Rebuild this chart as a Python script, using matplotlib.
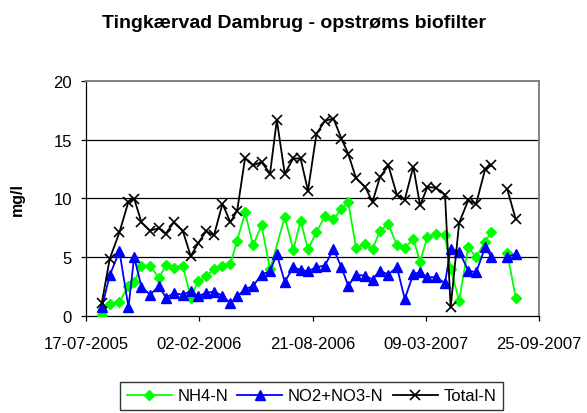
import numpy as np
import pandas as pd
import matplotlib
matplotlib.use("Agg")
import matplotlib.pyplot as plt
import matplotlib.dates as mdates

plt.rcParams['font.family'] = ['Liberation Sans', 'DejaVu Sans']

nan = np.nan

# sampling dates (the 2007-07-17 row has no samples -> lines break there)
dates = ['2005-08-14', '2005-08-28', '2005-09-14', '2005-09-30', '2005-10-10',
         '2005-10-23', '2005-11-07', '2005-11-23', '2005-12-05', '2005-12-19',
         '2006-01-04', '2006-01-18', '2006-01-31', '2006-02-14', '2006-02-28',
         '2006-03-15', '2006-03-29', '2006-04-10', '2006-04-24', '2006-05-08',
         '2006-05-23', '2006-06-07', '2006-06-19', '2006-07-03', '2006-07-18',
         '2006-07-31', '2006-08-13', '2006-08-28', '2006-09-12', '2006-09-27',
         '2006-10-11', '2006-10-23', '2006-11-06', '2006-11-22', '2006-12-05',
         '2006-12-18', '2007-01-02', '2007-01-17', '2007-01-31', '2007-02-15',
         '2007-02-27', '2007-03-12', '2007-03-27', '2007-04-12', '2007-04-22',
         '2007-05-07', '2007-05-23', '2007-06-06', '2007-06-22', '2007-07-03',
         '2007-07-17', '2007-07-31', '2007-08-15']

nh4 = [0.1, 1.0, 1.15, 2.55, 2.85, 4.25, 4.25, 3.2, 4.35, 4.1,
       4.25, 1.55, 2.95, 3.35, 4.0, 4.25, 4.4, 6.4, 8.8, 6.0,
       7.7, 3.95, nan, 8.4, 5.6, 8.1, 5.65, 7.1, 8.5, 8.2,
       9.1, 9.7, 5.75, 6.1, 5.65, 7.25, 7.8, 6.0, 5.78, 6.55,
       4.6, 6.7, 6.98, 6.84, 3.99, 1.28, 5.84, 4.99, 6.32, 7.12,
       nan, 5.33, 1.51]

no2_no3 = [0.7, 3.45, 5.5, 0.72, 5.0, 2.45, 1.8, 2.5, 1.55, 1.9,
           1.8, 2.1, 1.65, 1.95, 2.05, 1.7, 1.05, 1.65, 2.25, 2.53,
           3.5, 3.8, 5.23, 2.88, 4.13, 3.9, 3.8, 4.13, 4.27, 5.7,
           4.13, 2.56, 3.48, 3.42, 3.08, 3.85, 3.5, 4.15, 1.42, 3.56,
           3.7, 3.28, 3.28, 2.79, 5.7, 5.47, 3.85, 3.7, 5.84, 4.99,
           nan, 4.99, 5.27]

total_n = [1.12, 4.86, 7.1, 9.72, 9.98, 7.95, 7.25, 7.45, 7.0, 7.95,
           7.22, 5.07, 6.17, 7.2, 6.85, 9.54, 7.97, 8.96, 13.45, 12.8,
           13.1, 12.1, 16.67, 12.1, 13.4, 13.4, 10.65, 15.5, 16.6, 16.8,
           15.1, 13.8, 11.7, 10.97, 9.69, 11.8, 12.8, 10.3, 9.9, 12.7,
           9.4, 10.97, 10.9, 10.3, 0.71, 7.92, 9.83, 9.54, 12.5, 12.8,
           nan, 10.77, 8.2]

df = pd.DataFrame({'NH4-N': nh4, 'NO2+NO3-N': no2_no3, 'Total-N': total_n},
                  index=pd.to_datetime(dates))

fig = plt.figure(figsize=(5.87, 4.14), dpi=100)
ax = fig.add_axes([86 / 587, 1 - 316.7 / 414, 453 / 587, 234.7 / 414])

# gridlines like excel
for v in [5, 10, 15]:
    ax.axhline(v, color='black', lw=0.9, zorder=1)

styles = {
    'NH4-N': dict(color='#00FF00', marker='D', ms=4.8),
    'NO2+NO3-N': dict(color='#0000FF', marker='^', ms=7),
    'Total-N': dict(color='black', marker='x', ms=7, mew=1.2),
}

segment = df.isna().all(axis=1).cumsum()
for name, st in styles.items():
    first = True
    for _, part in df[name].groupby(segment):
        part = part.dropna()
        ax.plot(part.index, part.values, lw=1.3, zorder=3,
                label=name if first else '_nolegend_', **st)
        first = False

ax.set_ylim(0, 20)
ax.set_yticks([0, 5, 10, 15, 20])
ax.set_xlim(pd.Timestamp('2005-07-17'), pd.Timestamp('2007-09-25'))
ax.set_xticks(pd.date_range('2005-07-17', periods=5, freq='200D'))
ax.xaxis.set_major_formatter(mdates.DateFormatter('%d-%m-%Y'))

ax.tick_params(axis='both', direction='out', length=3.6, width=0.9,
               labelsize=12, color='black')
ax.tick_params(axis='x', pad=11)
ax.tick_params(axis='y', pad=6.5)

for s in ['left', 'bottom']:
    ax.spines[s].set_color('black')
    ax.spines[s].set_linewidth(0.9)
for s in ['top', 'right']:
    ax.spines[s].set_color('#808080')
    ax.spines[s].set_linewidth(1.4)

ax.set_ylabel('mg/l', fontsize=11.5, fontweight='bold')
ax.yaxis.set_label_coords(-0.135, 0.5)

fig.text(0.5, 1 - 28.3 / 414, 'Tingkærvad Dambrug - opstrøms biofilter',
         ha='center', va='baseline', fontsize=14, fontweight='bold')

leg = fig.legend(loc='center', bbox_to_anchor=(311.5 / 587, 1 - 397 / 414),
                 ncol=3, fontsize=12, frameon=True, fancybox=False,
                 borderpad=0.4, handlelength=2.7, handletextpad=0.34,
                 columnspacing=0.56, borderaxespad=0)
leg.get_frame().set_edgecolor('black')
leg.get_frame().set_linewidth(1.0)

fig.savefig('out.png', dpi=100, facecolor='white')
